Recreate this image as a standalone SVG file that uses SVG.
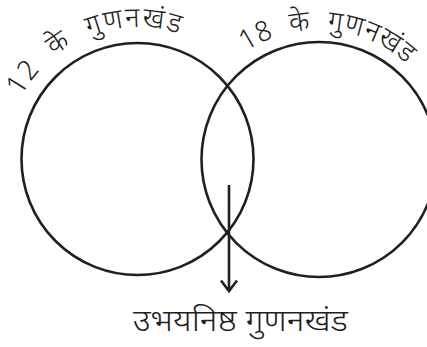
<svg xmlns="http://www.w3.org/2000/svg" width="427" height="347" viewBox="0 0 427 347">
<style>
.c{fill:none;stroke:#231f20;stroke-width:2.6}
.a{fill:none;stroke:#231f20;stroke-width:2.6;stroke-linecap:butt}
.t{font-family:"Noto Sans Devanagari","Noto Sans","DejaVu Sans",sans-serif;fill:#231f20;font-weight:300}
</style>
<defs>
<path id="pL" d="M 19.9 99.1 A 132 132 0 0 1 191.2 38.4"/>
<path id="pR" d="M 246 51.5 A 130 130 0 0 1 421 80"/>
</defs>
<rect width="427" height="347" fill="#fff"/>
<g id="left-set">
<circle class="c" cx="137.5" cy="159" r="116"/>
<text class="t" font-size="28" word-spacing="9" letter-spacing="1.7"><textPath href="#pL" startOffset="3">12 के  गुणनखंड</textPath></text>
</g>
<g id="right-set">
<circle class="c" cx="319" cy="159.5" r="117.5"/>
<text class="t" font-size="28" word-spacing="8" letter-spacing="0.7"><textPath href="#pR">18 के  गुणनखंड</textPath></text>
</g>
<g id="connectors">
<line class="a" x1="229" y1="185" x2="229" y2="291"/>
<polyline class="a" points="221,280.5 229,291 237,280.5"/>
</g>
<g id="common-label">
<text class="t" x="133" y="331" font-size="31" textLength="215" lengthAdjust="spacingAndGlyphs">उभयनिष्ठ  गुणनखंड</text>
</g>
</svg>
